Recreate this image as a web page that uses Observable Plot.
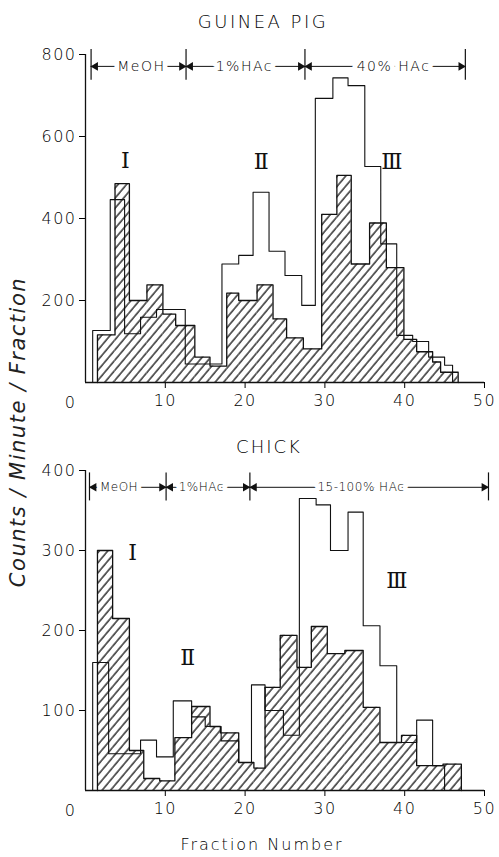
<!DOCTYPE html>
<html><head><meta charset="utf-8">
<script src="https://cdn.jsdelivr.net/npm/d3@7"></script>
<script src="https://cdn.jsdelivr.net/npm/@observablehq/plot@0.6"></script>
<style>
body{margin:0;background:#fff;}
#wrap{position:relative;width:499px;height:857px;overflow:hidden;background:#fff;font-family:"DejaVu Sans",sans-serif;color:#000;font-weight:200;}
.t{position:absolute;white-space:nowrap;transform:translate(-50%,-50%);line-height:1;}
</style></head><body><div id="wrap"></div>
<script>
// ---------- data ----------
const xTickValues = [10, 20, 30, 40, 50];
const gpYTicks = [200, 400, 600, 800];
const chYTicks = [100, 200, 300, 400];

// Guinea pig: open (unhatched) histogram
const gpOpenEdges = [0.9, 3.1, 4.9, 6.9, 8.9, 12.5, 17.1, 19.2, 21, 23, 25, 27.1, 28.8, 31, 32.9, 35, 37, 39, 41, 43, 45, 46];
const gpOpenCounts = [127, 446, 119, 159, 178, 45, 289, 310, 464, 320, 261, 188, 693, 743, 724, 527, 338, 115, 100, 62, 42];
// Guinea pig: hatched histogram
const gpHatchEdges = [1.5, 3.7, 5.5, 7.7, 9.7, 11.3, 13.7, 15.6, 17.7, 19.2, 21.5, 23.5, 25.2, 27.3, 29.6, 31.5, 33.3, 35.6, 37.7, 39.9, 41.5, 43.5, 44.5, 46.7];
const gpHatchCounts = [116, 485, 200, 238, 167, 139, 62, 40, 218, 200, 238, 155, 109, 82, 410, 505, 289, 389, 280, 105, 75, 50, 25];

// Chick: open histogram
const chOpenEdges = [0.9, 2.9, 6.9, 8.9, 11, 13.3, 15, 17, 19.2, 20.8, 22.5, 24.8, 26.8, 28.9, 30.7, 32.9, 34.8, 36.9, 39, 41.5, 43.5, 45];
const chOpenCounts = [160, 46, 63, 42, 112, 92, 80, 62, 35, 132, 100, 69, 365, 357, 300, 348, 206, 156, 60, 88, 31];
// Chick: hatched histogram
const chHatchEdges = [1.5, 3.4, 5.5, 7.3, 9.3, 11.2, 13.3, 15.6, 16.9, 19.2, 21.1, 22.5, 24.4, 26.5, 28.3, 30.3, 32.5, 34.8, 36.9, 39.6, 41.5, 44.8, 47.1];
const chHatchCounts = [300, 215, 50, 15, 12, 66, 105, 80, 72, 35, 28, 129, 194, 154, 205, 171, 175, 104, 60, 69, 31, 33];

// Elution phases
const gpPhaseBounds = [0.7, 12.6, 27.5, 47.6];
const gpPhaseLabels = ["MeOH", "1%HAc", "40% HAc"];
const gpPhaseLabelX = [7.0, 19.9, 38.6];
const chPhaseBounds = [0.5, 10.1, 20.6, 50.5];
const chPhaseLabels = ["MeOH", "1%HAc", "15-100% HAc"];
const chPhaseLabelX = [4.2, 14.5, 34.5];

// Peak labels
const peakNames = ["Ⅰ", "Ⅱ", "Ⅲ"];
const gpPeakX = [5.1, 22.1, 38.5];
const gpPeakY = [541, 537, 537];
const chPeakX = [6.0, 12.9, 39.1];
const chPeakY = [297, 166, 262];

// ---------- helpers ----------
function steps(edges, counts) {
  const pts = [{x: edges[0], y: 0}];
  counts.forEach((c, i) => pts.push({x: edges[i], y: c}));
  pts.push({x: edges[edges.length - 1], y: counts[counts.length - 1]});
  pts.push({x: edges[edges.length - 1], y: 0});
  return pts;
}
function bins(edges, counts) {
  return counts.map((c, i) => ({x1: edges[i], x2: edges[i + 1], y: c}));
}

function panel(o) {
  const segs = o.labels.map((l, i) => ({x1: o.bounds[i], x2: o.bounds[i + 1], lx: o.labelX[i], label: l}));
  const arrows = [];
  segs.forEach(s => { arrows.push({x: s.x1 + 0.55, r: -90}); arrows.push({x: s.x2 - 0.55, r: 90}); });
  const peaks = peakNames.map((n, i) => ({n, x: o.peakX[i], y: o.peakY[i]}));
  const svg = Plot.plot({
    width: 499, height: o.height,
    marginLeft: 85, marginRight: 15, marginTop: o.marginTop, marginBottom: o.marginBottom,
    style: {background: "transparent", fontSize: "16px", fontFamily: "DejaVu Sans, sans-serif", fontWeight: 200, letterSpacing: "1.5px", color: "#000", overflow: "visible"},
    x: {domain: [0, 50], ticks: xTickValues, tickSize: 6, tickPadding: 6, label: null},
    y: {domain: [0, o.yMax], ticks: o.yTicks, tickSize: 6, tickPadding: 3, label: null},
    marks: [
      Plot.rectY(bins(o.hEdges, o.hCounts), {x1: "x1", x2: "x2", y: "y", fill: "url(#" + o.id + ")"}),
      Plot.line(steps(o.hEdges, o.hCounts), {x: "x", y: "y", curve: "step-after", stroke: "#111", strokeWidth: 1.3}),
      Plot.line(steps(o.oEdges, o.oCounts), {x: "x", y: "y", curve: "step-after", stroke: "#111", strokeWidth: 1.1}),
      Plot.ruleY([0], {x1: 0, x2: 50, stroke: "#111", strokeWidth: 1.3}),
      Plot.ruleX([0], {y1: 0, y2: o.yMax, stroke: "#111", strokeWidth: 1.3}),
      Plot.text([0], {x: d => d, y: 0, text: d => String(d), dx: -15, dy: 20, fontSize: 16, fill: "#000"}),
      // phase brackets
      Plot.ruleY(segs, {x1: "x1", x2: "x2", y: o.by, stroke: "#111", strokeWidth: 1}),
      Plot.text(segs, {x: "lx", y: o.by, text: "label", fontSize: o.bfs, fill: "#000", stroke: "white", strokeWidth: 10}),
      Plot.ruleX(o.bounds, {x: d => d, y1: o.byLo, y2: o.byHi, stroke: "#111", strokeWidth: 1.2}),
      Plot.dot(arrows, {x: "x", y: o.by, symbol: "triangle", rotate: "r", r: 3.2, fill: "#111", stroke: "none"}),
      // peak labels
      Plot.text(peaks, {x: "x", y: "y", text: "n", fontFamily: "DejaVu Serif, Liberation Serif, serif", fontSize: 22, fill: "#111"})
    ]
  });
  d3.select(svg).selectAll("text").filter(function () { return o.labels.includes(this.textContent); })
    .style("letter-spacing", o.bls);
  const defs = d3.select(svg).insert("defs", ":first-child");
  const pat = defs.append("pattern").attr("id", o.id).attr("patternUnits", "userSpaceOnUse")
    .attr("width", 6.5).attr("height", 6.5).attr("patternTransform", "rotate(40)");
  pat.append("line").attr("x1", 1).attr("y1", -1).attr("x2", 1).attr("y2", 8)
    .attr("stroke", "#111").attr("stroke-width", 1.3);
  return svg;
}

const wrap = document.getElementById("wrap");

const top1 = panel({
  id: "hatchGP", height: 422, marginTop: 54, marginBottom: 40, yMax: 800, yTicks: gpYTicks,
  oEdges: gpOpenEdges, oCounts: gpOpenCounts, hEdges: gpHatchEdges, hCounts: gpHatchCounts,
  bounds: gpPhaseBounds, labels: gpPhaseLabels, labelX: gpPhaseLabelX, by: 771, byLo: 737, byHi: 812,
  peakX: gpPeakX, peakY: gpPeakY, bfs: 14, bls: "1.5px"
});
top1.style.position = "absolute"; top1.style.left = "0px"; top1.style.top = "0px";
wrap.appendChild(top1);

const bot = panel({
  id: "hatchCH", height: 400, marginTop: 45, marginBottom: 35, yMax: 400, yTicks: chYTicks,
  oEdges: chOpenEdges, oCounts: chOpenCounts, hEdges: chHatchEdges, hCounts: chHatchCounts,
  bounds: chPhaseBounds, labels: chPhaseLabels, labelX: chPhaseLabelX, by: 379, byLo: 362, byHi: 397,
  peakX: chPeakX, peakY: chPeakY, bfs: 12, bls: "0.5px"
});
bot.style.position = "absolute"; bot.style.left = "0px"; bot.style.top = "425px";
wrap.appendChild(bot);

function label(txt, x, y, css) {
  const d = document.createElement("div");
  d.className = "t"; d.textContent = txt;
  d.style.left = x + "px"; d.style.top = y + "px";
  Object.assign(d.style, css || {});
  wrap.appendChild(d);
}
label("GUINEA  PIG", 263, 22, {fontSize: "18px", letterSpacing: "2.5px"});
label("CHICK", 269, 447, {fontSize: "18px", letterSpacing: "2px"});
label("Fraction  Number", 262, 845, {fontSize: "16px", letterSpacing: "2px"});
label("Counts / Minute / Fraction", 18, 432, {fontSize: "21px", fontStyle: "italic", letterSpacing: "1.5px", color: "#222", transform: "translate(-50%,-50%) rotate(-90deg)"});
</script>
</body></html>
